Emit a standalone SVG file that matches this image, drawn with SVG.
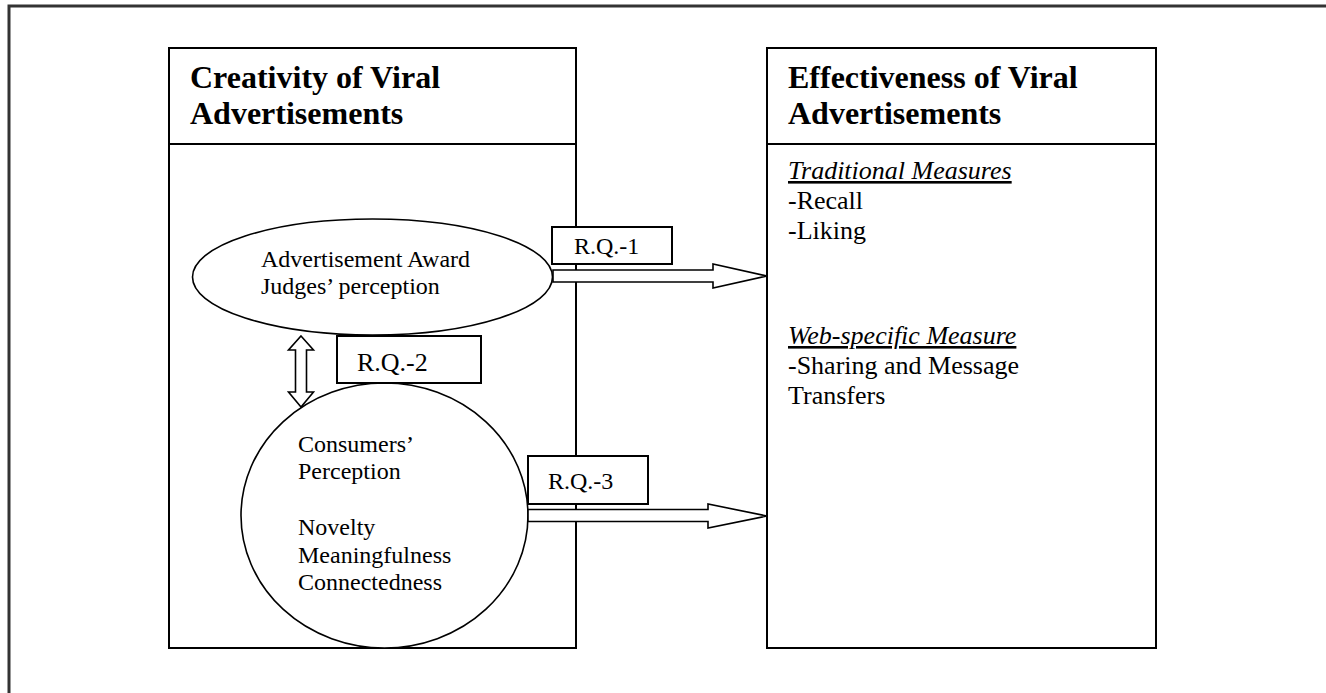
<svg xmlns="http://www.w3.org/2000/svg" width="1326" height="693" viewBox="0 0 1326 693">
<style>
text{font-family:"Liberation Serif","Times New Roman",serif;fill:#000}
.title{font-size:32px;font-weight:bold}
.body{font-size:26px}
.small{font-size:24px}
.box{fill:#fff;stroke:#000;stroke-width:2}
.shape{fill:#fff;stroke:#000;stroke-width:1.6}
.it{font-style:italic;text-decoration:underline}
</style>
<rect width="1326" height="693" fill="#fff"/>
<rect x="9" y="6" width="1330" height="700" fill="none" stroke="#333" stroke-width="3"/>
<g id="creativity">
<rect class="box" x="169" y="48" width="407" height="600"/>
<line x1="169" y1="144" x2="576" y2="144" stroke="#000" stroke-width="2"/>
<text class="title" x="190" y="88">Creativity of Viral</text>
<text class="title" x="190" y="124">Advertisements</text>
</g>
<g id="effectiveness">
<rect class="box" x="767" y="48" width="389" height="600"/>
<line x1="767" y1="144" x2="1156" y2="144" stroke="#000" stroke-width="2"/>
<text class="title" x="788" y="88">Effectiveness of Viral</text>
<text class="title" x="788" y="124">Advertisements</text>
<text class="body it" x="788" y="179">Traditional Measures</text>
<text class="body" x="788" y="209">-Recall</text>
<text class="body" x="788" y="239">-Liking</text>
<text class="body it" x="788" y="344">Web-specific Measure</text>
<text class="body" x="788" y="374">-Sharing and Message</text>
<text class="body" x="788" y="404">Transfers</text>
</g>
<g id="judges">
<ellipse class="shape" cx="372.5" cy="277" rx="180" ry="58"/>
<text class="small" x="261" y="267">Advertisement Award</text>
<text class="small" x="261" y="294">Judges’ perception</text>
</g>
<g id="consumers">
<ellipse class="shape" cx="384.5" cy="515.5" rx="143.5" ry="132.5"/>
<text class="small" x="298" y="452">Consumers’</text>
<text class="small" x="298" y="479">Perception</text>
<text class="small" x="298" y="535">Novelty</text>
<text class="small" x="298" y="563">Meaningfulness</text>
<text class="small" x="298" y="590">Connectedness</text>
</g>
<g id="connectors">
<polygon class="shape" points="553,270 713,270 713,264 767,276 713,288 713,282 553,282"/>
<polygon class="shape" points="528,509.5 708,509.5 708,504 767,516 708,528 708,521.5 528,521.5"/>
<polygon class="shape" points="301,336 313.5,350 306.5,350 306.5,392 313.5,392 301,407 288.5,392 295.5,392 295.5,350 288.5,350"/>
</g>
<g id="rq1">
<rect class="box" x="552" y="227" width="120" height="37"/>
<text class="small" x="574" y="254">R.Q.-1</text>
</g>
<g id="rq2">
<rect class="box" x="337" y="336" width="144" height="47"/>
<text class="body" x="357" y="371">R.Q.-2</text>
</g>
<g id="rq3">
<rect class="box" x="528" y="456" width="120" height="48"/>
<text class="small" x="548" y="489">R.Q.-3</text>
</g>
</svg>
